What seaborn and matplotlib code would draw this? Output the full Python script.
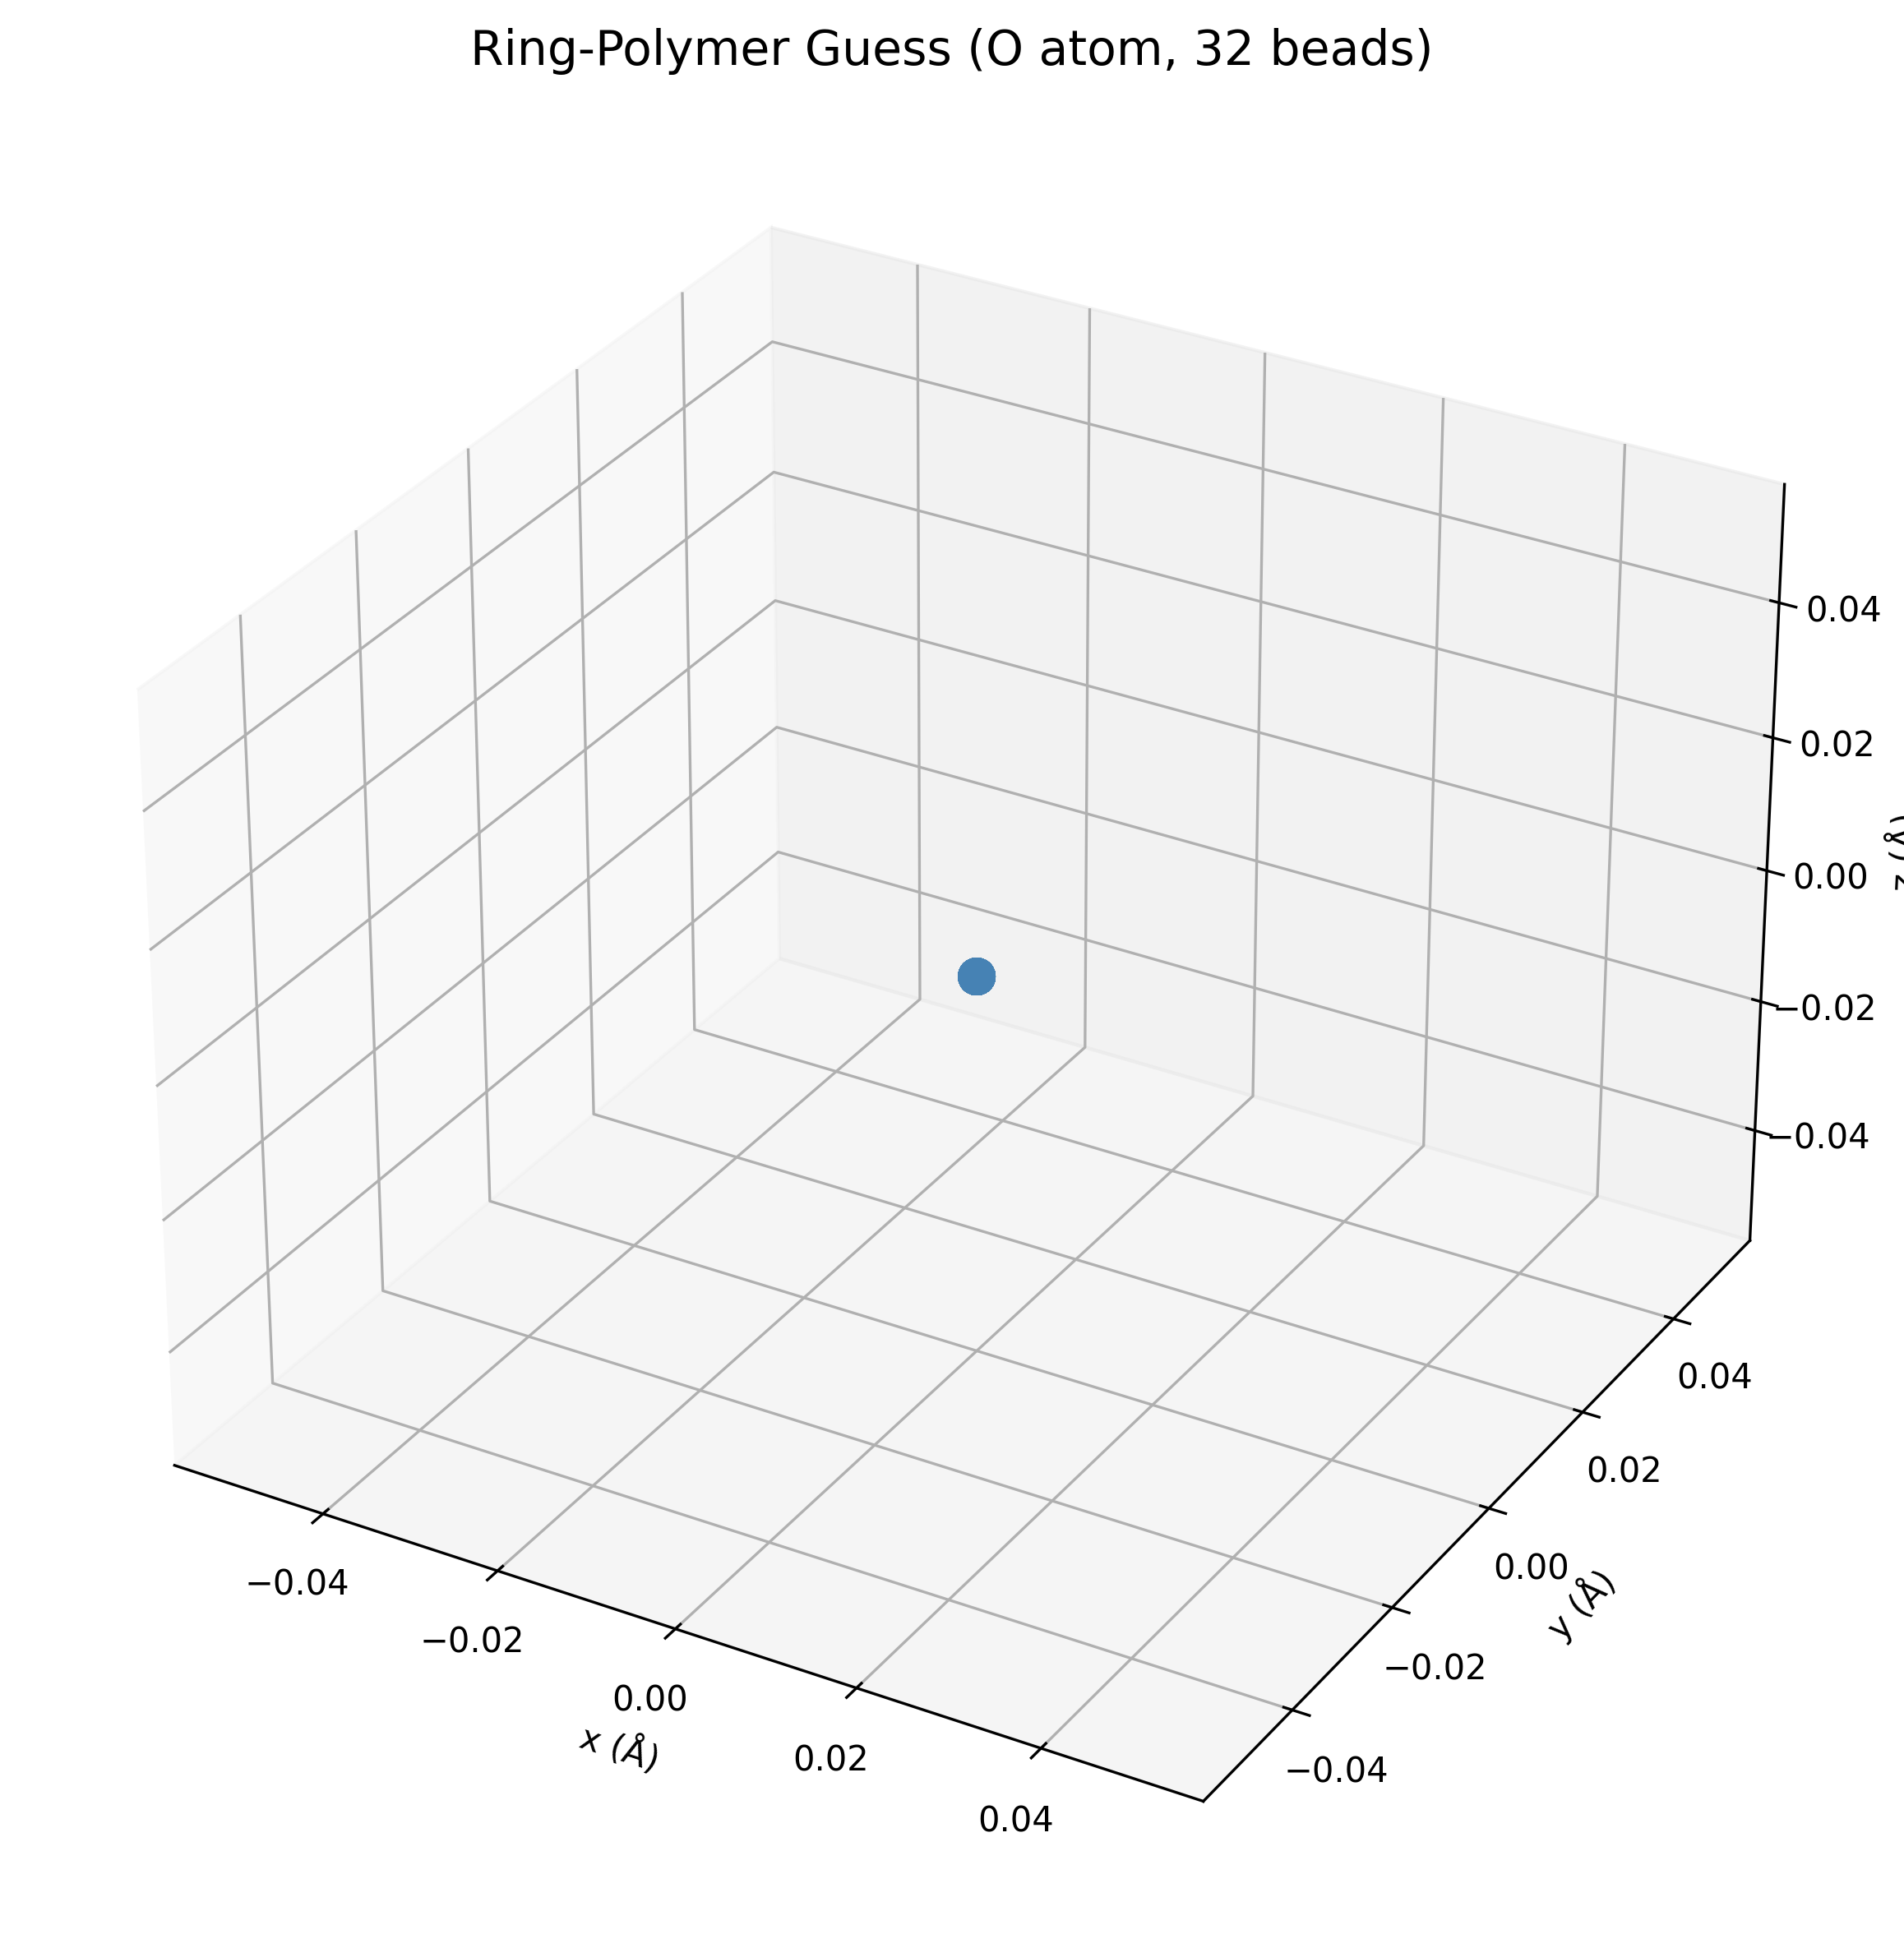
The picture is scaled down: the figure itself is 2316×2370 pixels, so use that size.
import matplotlib
matplotlib.use("Agg")
import matplotlib.pyplot as plt
import seaborn as sns

sns.reset_orig()

# 32 beads, all collapsed at the origin in the initial guess
n_beads = 32
bead_x = [0.0] * n_beads
bead_y = [0.0] * n_beads
bead_z = [0.0] * n_beads

fig = plt.figure(figsize=(7.72, 7.9))
ax = fig.add_subplot(111, projection="3d")
ax.scatter(bead_x, bead_y, bead_z, s=100, color="steelblue", alpha=1.0)
ax.set_xlabel("x (Å)")
ax.set_ylabel("y (Å)")
ax.set_zlabel("z (Å)")
ax.set_title("Ring-Polymer Guess (O atom, 32 beads)", fontsize=14)
fig.subplots_adjust(left=0.0, right=1.0, bottom=0.016, top=0.956)
fig.savefig("out.png", dpi=300)
